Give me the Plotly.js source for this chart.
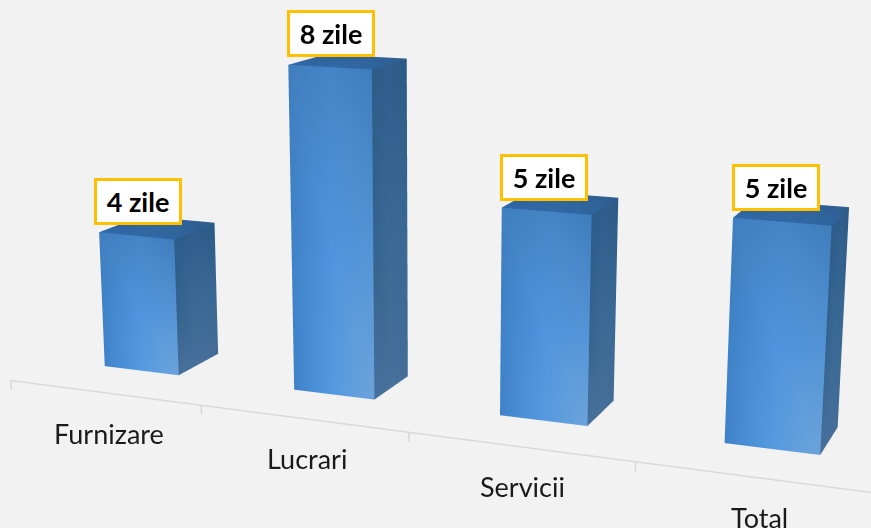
<!DOCTYPE html>
<html><head><meta charset="utf-8">
<script src="https://cdn.plot.ly/plotly-3.0.1.min.js"></script>
<style>
html,body{margin:0;padding:0;width:871px;height:528px;overflow:hidden;background:#f2f2f2}
#wrap{position:absolute;left:0;top:0;width:871px;height:528px;overflow:hidden}
#chart{position:absolute;left:-358px;top:-529px;width:1586px;height:1586px}
</style></head><body>
<div id="wrap"><div id="chart"></div></div>
<script>
const categories = ["Furnizare","Lucrari","Servicii","Total"];
const days = [3.55, 8.1, 5.05, 5.25];
const dayLabels = ["4 zile","8 zile","5 zile","5 zile"];

const barWidth = 0.40, barDepth = 0.375, depthStart = 0.313;
const axisOffsetX = 0.02, axisY = -0.04;
const boxNudge = [0.01,0.005,-0.008,-0.025];
const frontGrid = [["#3f7ebe","#4485c6","#3f7dbc"],["#3f82c8","#4f94dc","#5494d6"],["#3f82ca","#559ae0","#6ca3da"]];
const sideGrid = [["#2d5b8a","#2f5e8c","#2c5a87"],["#35648f","#3a6a96","#3a6894"],["#47709b","#47709b","#446c96"]];
const topGrid = [["#2f5f96","#30629a","#2f5d8e"],["#2f649e","#32689f","#2f6297"],["#2f69a8","#3068a6","#2f66a2"]];
const rowStops = [0,0.55,1], colStops = [0,0.5,1];

function barMesh(i, v){
  const x0=i+(1-barWidth)/2, x1=x0+barWidth, y0=depthStart, y1=y0+barDepth;
  const X=[],Y=[],Z=[],C=[],I=[],J=[],K=[];
  const face=(tl,tr,bl,grid)=>{
    const base=X.length;
    rowStops.forEach((r,ri)=>colStops.forEach((c,ci)=>{
      for(const [arr,k] of [[X,0],[Y,1],[Z,2]]) arr.push(tl[k]+(tr[k]-tl[k])*c+(bl[k]-tl[k])*r);
      C.push(grid[ri][ci]);
    }));
    for(let r=0;r<2;r++)for(let c=0;c<2;c++){
      const a=base+r*3+c,b=a+1,d=a+3,e=a+4;
      I.push(a,a);J.push(b,e);K.push(e,d);
    }
  };
  face([x0,y0,v],[x1,y0,v],[x0,y0,0],frontGrid);
  face([x1,y0,v],[x1,y1,v],[x1,y0,0],sideGrid);
  face([x0,y1,v],[x1,y1,v],[x0,y0,v],topGrid);
  return {type:"mesh3d",x:X,y:Y,z:Z,i:I,j:J,k:K,vertexcolor:C,flatshading:false,hoverinfo:"skip",showscale:false,
    lighting:{ambient:1,diffuse:0,specular:0,roughness:1,fresnel:0}};
}
const traces = days.map((v,i)=>barMesh(i,v));
const ax=[],ay=[],az=[];
for(let t=0;t<=4;t++){ const p=Math.min(t+axisOffsetX,4); ax.push(p,p,p); ay.push(axisY,axisY,axisY); az.push(0,-0.24,0); }
traces.push({type:"scatter3d",mode:"lines",x:ax,y:ay,z:az,line:{color:"#d9d9d9",width:3},hoverinfo:"skip",showlegend:false});

const hidden = r=>({range:r,autorange:false,showgrid:false,zeroline:false,showline:false,showticklabels:false,
  ticks:"",showbackground:false,showspikes:false,title:{text:""}});
const anns = [];
days.forEach((v,i)=>anns.push({x:i+0.5+boxNudge[i],y:depthStart,z:v,text:"<b>"+dayLabels[i]+"</b>",showarrow:false,yshift:34,
  bgcolor:"#ffffff",bordercolor:"#ffc000",borderwidth:3,width:80,height:39,font:{family:"Lato",size:27,color:"#000"}}));
categories.forEach((c,i)=>anns.push({x:i+0.5+axisOffsetX,y:0,z:0,text:c,showarrow:false,yshift:-43,
  font:{family:"Lato",size:27,color:"#1a1a1a"}}));

const layout = {width:1586,height:1586,margin:{l:0,r:0,t:0,b:0},paper_bgcolor:"#f2f2f2",showlegend:false,hovermode:false,
  scene:{domain:{x:[0,1],y:[0,1]},bgcolor:"#f2f2f2",
    xaxis:hidden([0,4]),yaxis:hidden([-0.6,1]),zaxis:hidden([-0.5,8.4]),
    aspectmode:"manual",aspectratio:{x:0.92,y:0.38,z:0.376},
    camera:{projection:{type:"perspective"},up:{x:0,y:0,z:1},
      center:{x:-0.001,y:0.0255,z:-0.0164},eye:{x:0.696,y:-1.7005,z:0.4336}},
    annotations:anns}};
Plotly.newPlot("chart",traces,layout,{displayModeBar:false});
</script></body></html>
